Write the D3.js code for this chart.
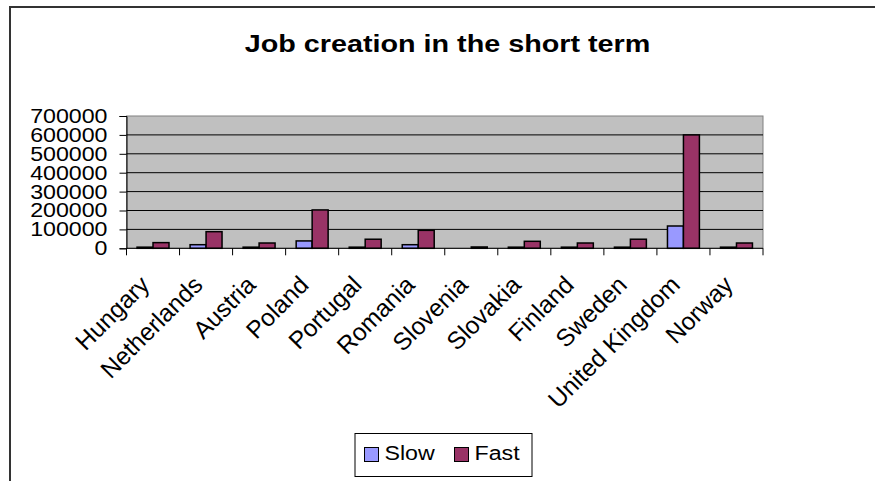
<!DOCTYPE html>
<html>
<head>
<meta charset="utf-8">
<script src="https://cdn.jsdelivr.net/npm/d3@7"></script>
<style>
  body { margin: 0; background: #fff; }
  text { font-family: "Liberation Sans", Arial, sans-serif; }
</style>
</head>
<body>
<svg id="chart" width="875" height="481"></svg>
<script>
// 数据
const countries = ["Hungary", "Netherlands", "Austria", "Poland", "Portugal", "Romania",
    "Slovenia", "Slovakia", "Finland", "Sweden", "United Kingdom", "Norway"];
const slowValues = [6000, 19000, 6000, 39000, 6000, 19000, 0, 6000, 6000, 6000, 118000, 6000];
const fastValues = [30000, 88000, 28000, 203000, 48000, 95000, 7000, 37000, 28000, 48000, 600000, 28000];
const seriesNames = ["Slow", "Fast"];
const seriesColors = ["#9999FF", "#993366"];
const yTicks = [0, 100000, 200000, 300000, 400000, 500000, 600000, 700000];

// 原图的横排文字被横向拉宽了一些
const stretch = 1.16;

const svg = d3.select("#chart");

// 外框（只有上边和左边）
svg.append("path")
    .attr("d", "M10,481 V7 H875")
    .attr("fill", "none")
    .attr("stroke", "#333")
    .attr("stroke-width", 2);

// 标题
svg.append("text")
    .attr("transform", "translate(447.5,52) scale(1.25,1)")
    .attr("text-anchor", "middle")
    .style("font-size", "23px").style("font-weight", "bold")
    .text("Job creation in the short term");

const plotLeft = 126.5, plotRight = 763, plotTop = 116, plotBottom = 248.3;

const x = d3.scaleBand().domain(countries).range([plotLeft, plotRight]);
const xInner = d3.scaleBand().domain(seriesNames).range([0, x.bandwidth()])
    .paddingOuter(0.66).paddingInner(0);
const y = d3.scaleLinear().domain([0, 700000]).range([plotBottom, plotTop]);

// 绘图区背景
svg.append("rect")
    .attr("x", plotLeft).attr("y", plotTop)
    .attr("width", plotRight - plotLeft).attr("height", plotBottom - plotTop)
    .attr("fill", "#C0C0C0")
    .attr("stroke", "#808080").attr("stroke-width", 1);

// 网格线
svg.append("g")
    .selectAll("line")
    .data(yTicks.filter(d => d > 0 && d < 700000))
    .join("line")
    .attr("x1", plotLeft).attr("x2", plotRight)
    .attr("y1", d => y(d)).attr("y2", d => y(d))
    .attr("stroke", "#000").attr("stroke-width", 1);

// 柱子
const groups = svg.append("g")
    .selectAll("g")
    .data(countries)
    .join("g")
    .attr("transform", d => `translate(${x(d)},0)`);

groups.selectAll("rect")
    .data((d, i) => [slowValues[i], fastValues[i]].map((v, j) => ({ name: seriesNames[j], value: v, color: seriesColors[j] })))
    .join("rect")
    .attr("x", d => xInner(d.name))
    .attr("width", xInner.bandwidth())
    .attr("y", d => y(d.value))
    .attr("height", d => plotBottom - y(d.value))
    .attr("fill", d => d.color)
    .attr("stroke", "#000").attr("stroke-width", 1.5);

// Y轴
const yAxis = svg.append("g")
    .attr("transform", `translate(${plotLeft},0)`)
    .call(d3.axisLeft(y).tickValues(yTicks).tickFormat(d3.format("d")).tickSize(7).tickPadding(13));
yAxis.select(".domain").attr("stroke", "#000");
yAxis.selectAll("text")
    .attr("x", 0)
    .attr("transform", `translate(-19,0) scale(${stretch},1)`)
    .style("font-size", "20px").attr("fill", "#000");

// X轴
const xTickPos = countries.map(d => x(d)).concat([plotRight]);
const xAxis = svg.append("g");
xAxis.append("line")
    .attr("x1", plotLeft).attr("x2", plotRight)
    .attr("y1", plotBottom).attr("y2", plotBottom)
    .attr("stroke", "#000");
xAxis.selectAll("line.tick")
    .data(xTickPos)
    .join("line").classed("tick", true)
    .attr("x1", d => d).attr("x2", d => d)
    .attr("y1", plotBottom).attr("y2", plotBottom + 7)
    .attr("stroke", "#000");
xAxis.selectAll("text")
    .data(countries)
    .join("text")
    .attr("text-anchor", "end")
    .attr("transform", d => `translate(${x(d) + x.bandwidth() / 2 - 2},${plotBottom + 38}) rotate(-45)`)
    .style("font-size", "24.5px")
    .text(d => d);

// 图例
const legend = svg.append("g");
legend.append("rect")
    .attr("x", 355).attr("y", 433.5)
    .attr("width", 177).attr("height", 43)
    .attr("fill", "#fff").attr("stroke", "#000");
const legendX = [364.5, 454.5];
seriesNames.forEach((name, i) => {
    legend.append("rect")
        .attr("x", legendX[i]).attr("y", 447.5)
        .attr("width", 14).attr("height", 14)
        .attr("fill", seriesColors[i]).attr("stroke", "#000");
    legend.append("text")
        .attr("transform", `translate(${legendX[i] + 20},460) scale(${stretch},1)`)
        .style("font-size", "20px")
        .text(name);
});
</script>
</body>
</html>
